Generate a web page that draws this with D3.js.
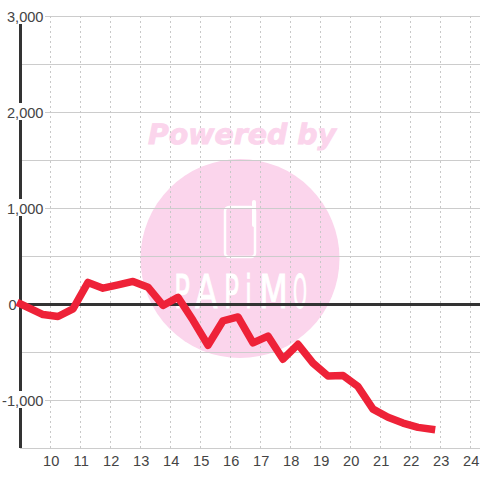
<!DOCTYPE html>
<html><head><meta charset="utf-8">
<script src="https://cdn.jsdelivr.net/npm/d3@7"></script>
<style>html,body{margin:0;padding:0;background:#fff}svg{display:block}</style>
</head><body><svg id="c" width="480" height="480"></svg>
<script>
const hours=[9,9.75,10.25,10.75,11.25,11.75,12.25,12.75,13.25,13.75,14.25,14.75,15.25,15.75,16.25,16.75,17.25,17.75,18.25,18.75,19.25,19.75,20.25,20.75,21.25,21.75,22.25,22.7];
const values=[0,-110,-130,-50,225,165,200,235,175,-15,70,-170,-430,-175,-135,-405,-335,-575,-420,-615,-750,-745,-860,-1095,-1180,-1240,-1285,-1305];
const xTicks=[10,11,12,13,14,15,16,17,18,19,20,21,22,23,24];
const yGrid=[3000,2500,2000,1500,1000,500,-500,-1000,-1500];
const yLabels=[3000,2000,1000,0,-1000];
const logoLetters=['P','A','P','i','M','O'];
const svg=d3.select('#c');
const x=d3.scaleLinear().domain([9,25]).range([20.5,500.5]);
const y=d3.scaleLinear().domain([3000,-1500]).range([16,448]);
const fmt=d3.formatLocale({decimal:'.',thousands:',',grouping:[3],currency:['','' ],minus:'-'}).format(',');
const font='"Liberation Sans",Arial,sans-serif';
const pink='#fbd5ec';
// watermark
const wm=svg.append('g');
wm.append('text').attr('x',148).attr('y',144).attr('textLength',188).attr('lengthAdjust','spacingAndGlyphs').attr('text-rendering','geometricPrecision').attr('font-family','"DejaVu Sans"').attr('font-weight','bold').attr('font-style','italic').attr('font-size',28).attr('fill',pink).attr('stroke',pink).attr('stroke-width',.9).text('Powered by');
wm.append('circle').attr('cx',240).attr('cy',258.5).attr('r',99.5).attr('fill',pink);
wm.append('rect').attr('x',225).attr('y',207).attr('width',30).attr('height',50).attr('rx',4).attr('fill','none').attr('stroke','#fff').attr('stroke-width',2.5);
wm.append('line').attr('x1',254).attr('x2',254).attr('y1',202).attr('y2',225).attr('stroke','#fff').attr('stroke-width',4).attr('stroke-linecap','round');
const logoBox=[[174,190],[195,218],[224,239],[245,252],[259,288],[293,307]];
wm.append('g').selectAll('text').data(logoLetters).join('text').attr('font-family','"DejaVu Sans"').attr('font-size',46).attr('fill','#fff').attr('stroke','#fff').attr('stroke-width',.9).text(d=>d).each(function(d,i){
  const b=this.getBBox(),[a,e]=logoBox[i],s=(e-a)/b.width;
  d3.select(this).attr('transform',`translate(${a-b.x*s},307.5) scale(${s},1)`);
});
// grid
svg.append('g').selectAll('line').data(yGrid).join('line').attr('x1',20).attr('x2',480).attr('y1',d=>y(d)+.5).attr('y2',d=>y(d)+.5).attr('stroke','#ccc').attr('stroke-width',1);
svg.append('g').selectAll('line').data(xTicks).join('line').attr('x1',d=>x(d)).attr('x2',d=>x(d)).attr('y1',16).attr('y2',448).attr('stroke','#c8c8c8').attr('stroke-width',1).attr('stroke-dasharray','2,3');
// axes
svg.append('line').attr('x1',20.5).attr('x2',20.5).attr('y1',16).attr('y2',448).attr('stroke','#333').attr('stroke-width',3);
svg.append('line').attr('x1',20).attr('x2',480).attr('y1',y(0)+.5).attr('y2',y(0)+.5).attr('stroke','#333').attr('stroke-width',3);
// y labels with white box
const yl=svg.append('g').attr('font-family',font).attr('font-size',14.6).attr('fill','#444');
yl.selectAll('rect').data(yLabels.filter(d=>d!==0)).join('rect').attr('x',0).attr('width',45).attr('y',d=>y(d)-9).attr('height',17).attr('fill','#fff');
yl.selectAll('text').data(yLabels).join('text').attr('x',d=>d===0?16.5:43.5).attr('y',d=>y(d)+6).attr('text-anchor','end').text(d=>fmt(d));
svg.append('g').attr('font-family',font).attr('font-size',14.6).attr('fill','#444').selectAll('text').data(xTicks).join('text').attr('x',d=>x(d)+.7).attr('y',466).attr('text-anchor','middle').text(d=>d);
// series
const line=d3.line().x((d,i)=>x(hours[i])).y(d=>y(d));
svg.append('path').datum(values).attr('d',line).attr('fill','none').attr('stroke','#ee2238').attr('stroke-width',7.5).attr('stroke-linejoin','round').attr('stroke-linecap','square');
</script></body></html>
